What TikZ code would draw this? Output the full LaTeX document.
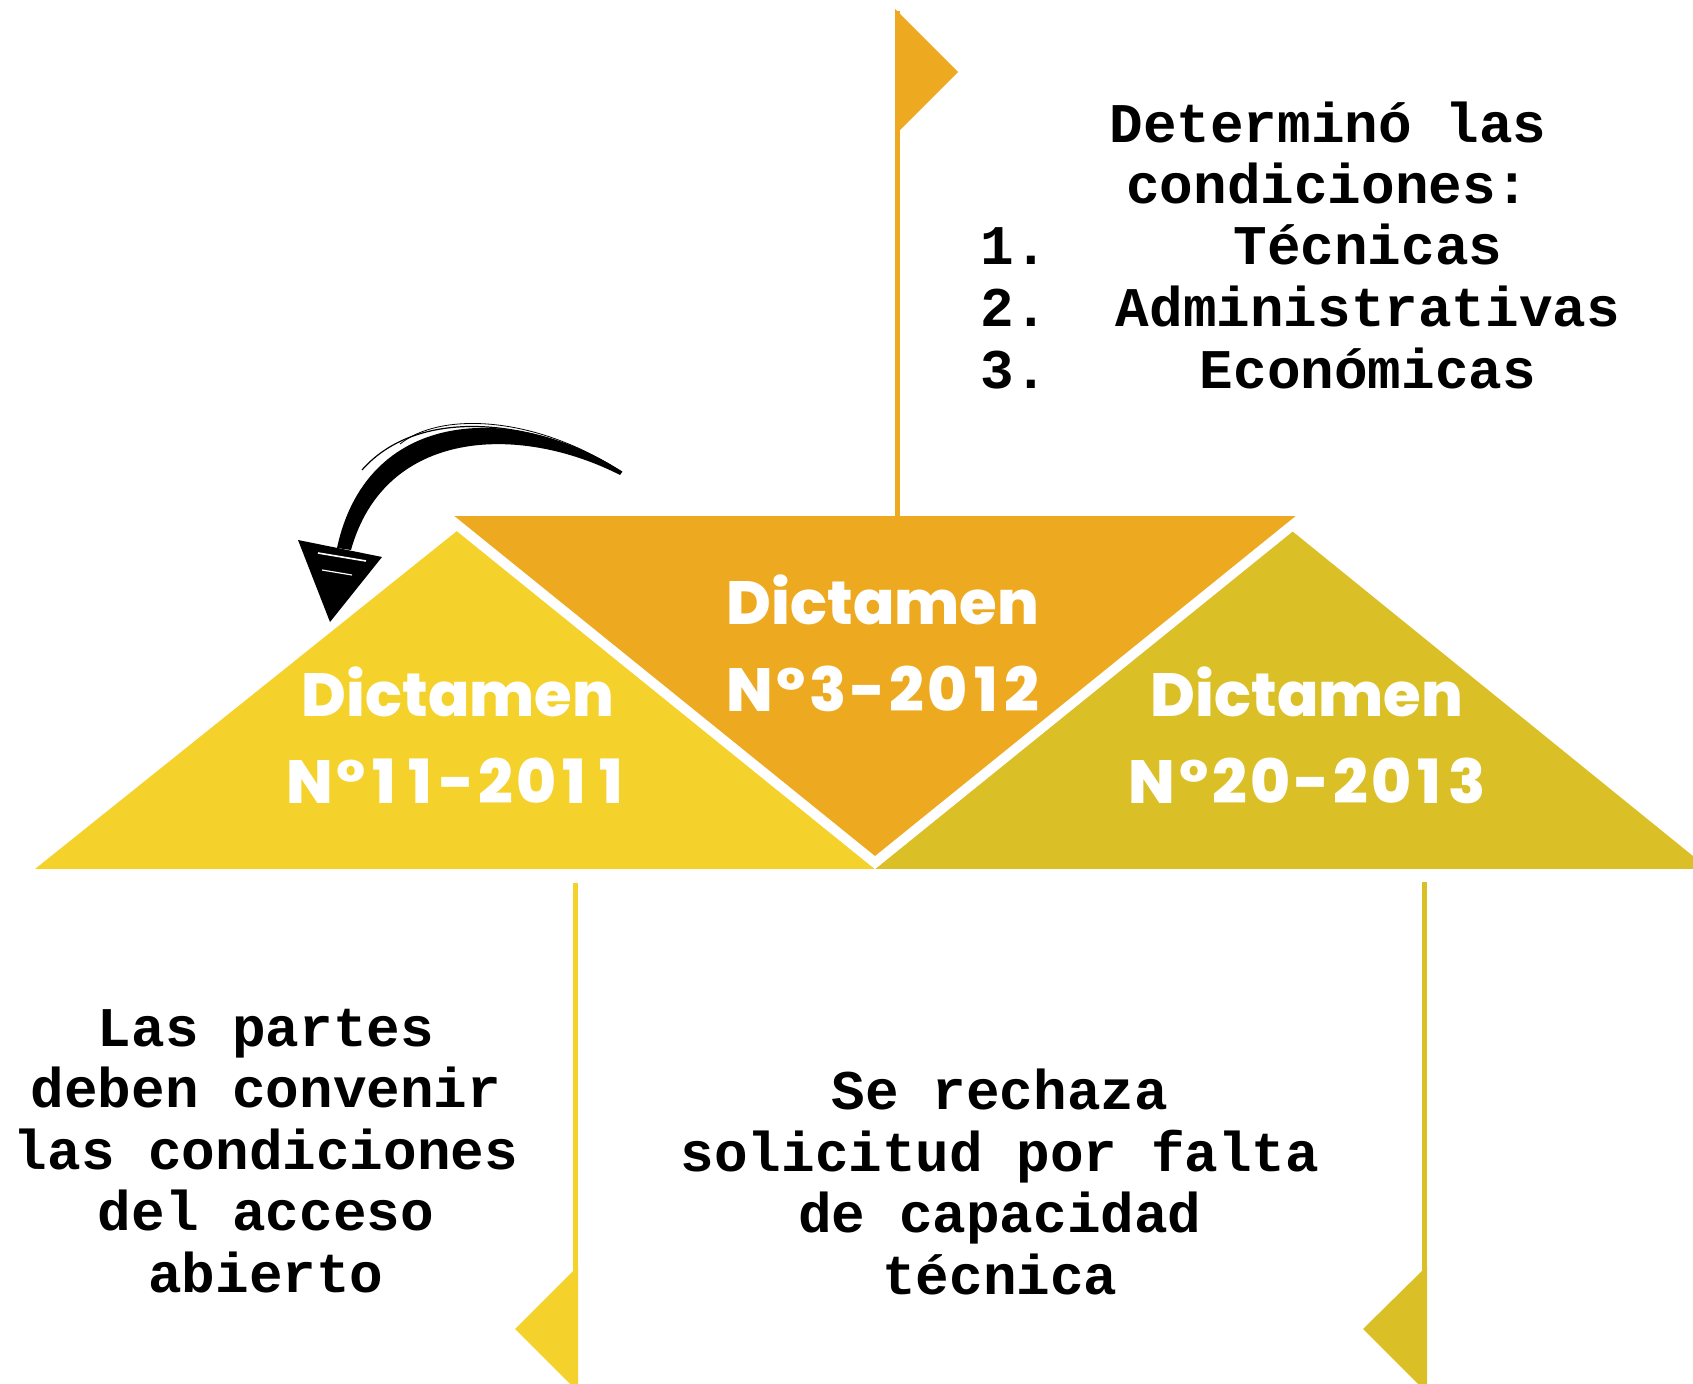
\documentclass[tikz,border=0pt]{standalone}
\usepackage{fontspec}
\setmonofont{Liberation Mono}
\newfontfamily\dictfont{Poppins}[UprightFont={* ExtraBold}]
\newcommand\dictone{\makebox[0.6em]{1}}
\newcommand\dictnum[1]{{\addfontfeatures{LetterSpace=6}#1}}
\definecolor{dictorange}{RGB}{237,169,32}
\definecolor{dictyellow}{RGB}{245,210,43}
\definecolor{dictgold}{RGB}{219,191,39}
\tikzset{
  dicttext/.style={text=white,inner sep=0,align=center,
    font=\dictfont\fontsize{30.5}{43.4}\selectfont},
  notetext/.style={inner sep=0,align=center,
    font=\ttfamily\bfseries\fontsize{28}{30.75}\selectfont},
}
\begin{document}
\begin{tikzpicture}[x=0.5pt,y=-0.5pt]
     \useasboundingbox (0,0) rectangle (1693,1384);
     \clip (0,0) rectangle (1693,1384);
     % the three triangles
     \fill[dictyellow] (35,869) -- (457,531) -- (875,869) -- cycle;
     \fill[dictgold] (875,869) -- (1292,531) -- (1709,869) -- cycle;
     \filldraw[fill=dictorange,draw=white,line width=5pt] (440,511) -- (1310,511) -- (875,862.6) -- cycle;
     % flags
     \fill[dictorange] (895,11) rectangle (900,516);
     \fill[dictorange] (895,9) -- (958,72) -- (895,135) -- cycle;
     \fill[dictyellow] (573,883) rectangle (578,1384);
     \fill[dictyellow] (578,1266) -- (515,1329) -- (578,1392) -- cycle;
     \fill[dictgold] (1422,882) rectangle (1427,1384);
     \fill[dictgold] (1427,1266) -- (1363,1329) -- (1427,1393) -- cycle;
     % hand drawn arrow
     \coordinate (arrowtail) at (622,472);
     \coordinate (arrowtip) at (330,622);
     \fill (arrowtail) .. controls (520,404) and (368,404) .. (337,548)
        -- (351,550) .. controls (385,428) and (520,424) .. (620,475) -- cycle;
     \draw[line width=0.6pt] (arrowtail) .. controls (540,420) and (420,404) .. (362,470);
     \draw[line width=0.4pt] (612,466) .. controls (530,416) and (440,412) .. (400,444);
     \fill (298,540) -- (382,557) -- (arrowtip) -- cycle;
     \draw[white,line width=0.8pt] (318,553) -- (366,561);
     \draw[white,line width=0.6pt] (322,570) -- (352,575);
     % labels
     \node[dicttext] (dict11) at (458,735) {Dictamen\\\dictnum{N°\dictone\dictone-20\dictone\dictone}};
     \node[dicttext] (dict3) at (883,643) {Dictamen\\\dictnum{N°3-20\dictone2}};
     \node[dicttext] (dict20) at (1307,735) {Dictamen\\\dictnum{N°20-20\dictone3}};
     \node[notetext] (cond) at (1328,153) {Determinó las\\condiciones:};
     \foreach \n/\item in {1/Técnicas,2/Administrativas,3/Económicas} {
        \node[notetext,anchor=base west] (num\n) at (980,{265+62*(\n-1)}) {\n.};
        \node[notetext,anchor=base] (item\n) at (1368,{265+62*(\n-1)}) {\item};
     }
     \node[notetext] (partes) at (266,1151) {Las partes\\deben convenir\\las condiciones\\del acceso\\abierto};
     \node[notetext] (rechaza) at (1000,1182) {Se rechaza\\solicitud por falta\\de capacidad\\técnica};
\end{tikzpicture}
\end{document}
